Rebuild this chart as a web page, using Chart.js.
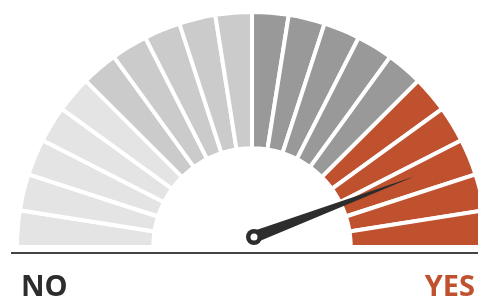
<!DOCTYPE html>
<html>
<head>
<meta charset="utf-8">
<script src="https://cdn.jsdelivr.net/npm/chart.js@4/dist/chart.umd.min.js"></script>
<style>
  body { margin: 0; background: #fff; }
  #wrap { width: 478px; height: 297px; position: relative; }
</style>
</head>
<body>
<div id="wrap"><canvas id="gauge"></canvas></div>
<script>
// 20 equal segments, 4 zones
let segmentValues = [5, 5, 5, 5, 5, 5, 5, 5, 5, 5, 5, 5, 5, 5, 5, 5, 5, 5, 5, 5];
let segmentColors = [
    '#e4e4e4', '#e4e4e4', '#e4e4e4', '#e4e4e4', '#e4e4e4',
    '#cbcbcb', '#cbcbcb', '#cbcbcb', '#cbcbcb', '#cbcbcb',
    '#999999', '#999999', '#999999', '#999999', '#999999',
    '#c0512f', '#c0512f', '#c0512f', '#c0512f', '#c0512f'
];
let endLabels = ['NO', 'YES'];
let needleValue = [88.5];
let gaugeMax = 100;

// draws base line, needle and the NO / YES labels
const gaugeExtras = {
    id: 'gaugeExtras',
    afterDatasetsDraw(chart) {
        const ctx = chart.ctx;
        const arc = chart.getDatasetMeta(0).data[0];
        const cx = arc.x, cy = arc.y;

        // base line
        ctx.save();
        ctx.strokeStyle = '#444';
        ctx.lineWidth = 2;
        ctx.beginPath();
        ctx.moveTo(11, cy + 6);
        ctx.lineTo(chart.width, cy + 6);
        ctx.stroke();

        // needle
        const px = cx + 2, py = cy - 10;
        const a = Math.PI + (needleValue[0] / gaugeMax) * Math.PI;
        const len = 172;
        const tx = px + Math.cos(a) * len, ty = py + Math.sin(a) * len;
        const nx = -Math.sin(a) * 6, ny = Math.cos(a) * 6;
        ctx.fillStyle = '#2d2d2d';
        ctx.beginPath();
        ctx.moveTo(px + nx, py + ny);
        ctx.lineTo(tx, ty);
        ctx.lineTo(px - nx, py - ny);
        ctx.closePath();
        ctx.fill();
        ctx.beginPath();
        ctx.arc(px, py, 8, 0, Math.PI * 2);
        ctx.fill();
        ctx.fillStyle = '#fff';
        ctx.beginPath();
        ctx.arc(px, py, 3.5, 0, Math.PI * 2);
        ctx.fill();

        // labels
        ctx.font = 'bold 29px "Open Sans"';
        ctx.textBaseline = 'alphabetic';
        ctx.textAlign = 'left';
        ctx.fillStyle = '#2d2d2d';
        ctx.fillText(endLabels[0], 21, 296);
        ctx.textAlign = 'right';
        ctx.fillStyle = '#c0512f';
        ctx.fillText(endLabels[1], 475, 296);
        ctx.restore();
    }
};

let gaugeChart = new Chart(document.getElementById('gauge').getContext('2d'), {
    type: 'doughnut',
    data: {
        labels: segmentValues.map((v, i) => 'segment ' + (i + 1)),
        datasets: [{
            data: segmentValues,
            backgroundColor: segmentColors,
            borderColor: '#fff',
            borderWidth: 4,
            clip: false
        }]
    },
    options: {
        responsive: true,
        maintainAspectRatio: false,
        animation: false,
        rotation: -90,
        circumference: 180,
        radius: 235,
        cutout: '42%',
        layout: { padding: { left: 26, right: 0, top: 0, bottom: 38 } },
        plugins: {
            legend: { display: false },
            tooltip: { enabled: false }
        }
    },
    plugins: [gaugeExtras]
});
</script>
</body>
</html>
